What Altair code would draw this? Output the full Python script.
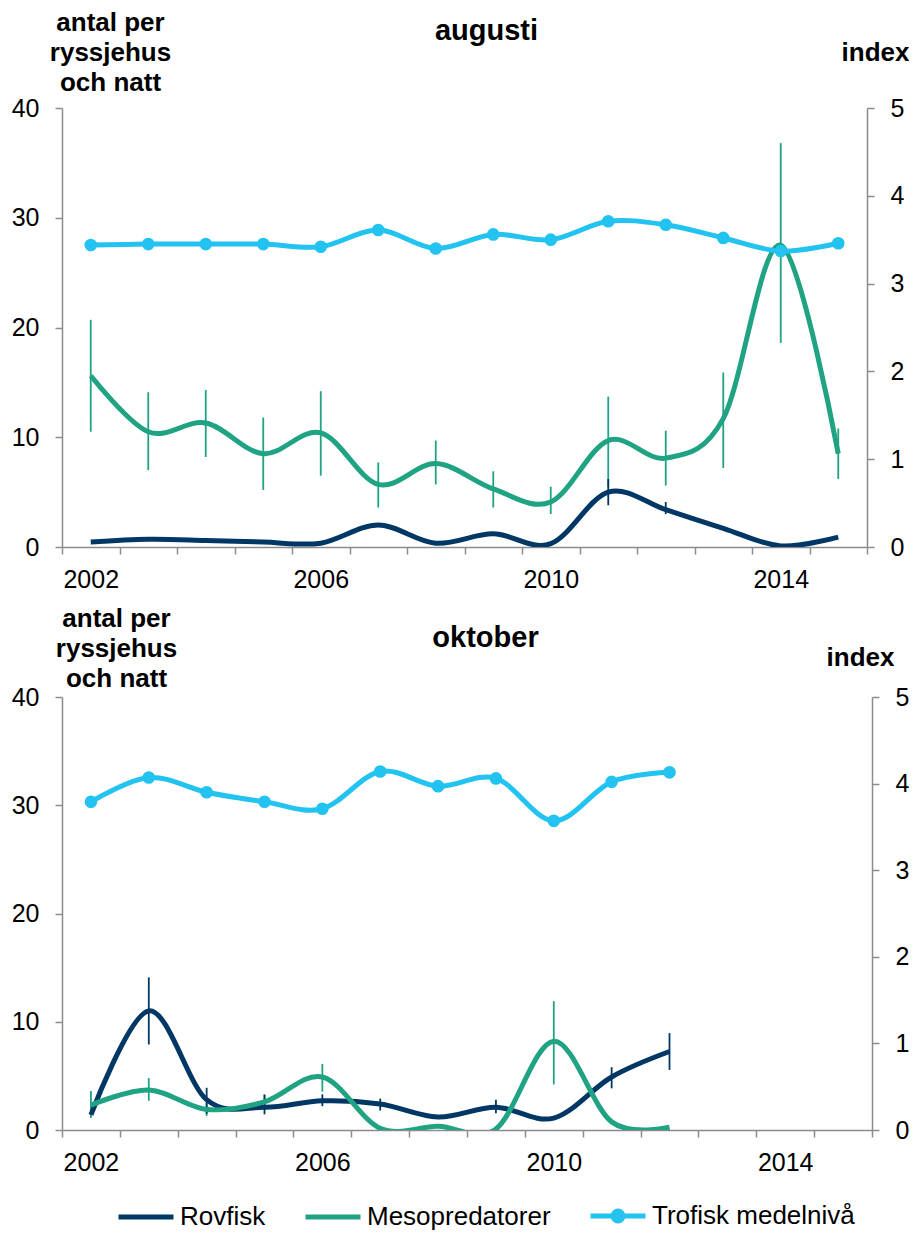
import altair as alt
import pandas as pd

FONT = "Liberation Sans"
series_names = ["Rovfisk", "Mesopredatorer", "Trofisk medelnivå"]
series_colors = ["#003764", "#1fa383", "#22c3f1"]

# ---------------- augusti ----------------
aug_years = list(range(2002, 2016))
aug_rovfisk = [0.45, 0.7, 0.6, 0.45, 0.35, 2.0, 0.35, 1.2, 0.3, 5.0, 3.4, 1.7, 0.1, 0.9]
aug_meso = [15.6, 10.5, 11.3, 8.5, 10.4, 5.7, 7.6, 5.3, 4.1, 9.7, 8.1, 11.7, 27.5, 8.5]
aug_trofisk = [3.44, 3.45, 3.45, 3.45, 3.42, 3.61, 3.40, 3.56, 3.50, 3.71, 3.67, 3.52, 3.37, 3.46]
aug_meso_lo = [10.5, 7.0, 8.2, 5.2, 6.5, 3.6, 5.7, 3.6, 3.0, 5.5, 5.6, 7.2, 18.6, 6.2]
aug_meso_hi = [20.7, 14.1, 14.3, 11.8, 14.2, 7.7, 9.7, 6.9, 5.5, 13.7, 10.6, 15.9, 36.8, 10.8]
aug_rov_err_years = [2011, 2012]
aug_rov_lo = [3.8, 3.0]
aug_rov_hi = [6.2, 4.1]

# ---------------- oktober ----------------
okt_years = list(range(2002, 2013))
okt_rovfisk = [1.4, 11.0, 2.8, 2.1, 2.7, 2.4, 1.2, 2.1, 1.1, 4.9, 7.25]
okt_meso = [2.3, 3.7, 1.9, 2.6, 4.9, 0.15, 0.35, 0.1, 8.2, 0.75, 0.25]
okt_trofisk = [3.79, 4.07, 3.90, 3.79, 3.71, 4.14, 3.97, 4.06, 3.57, 4.02, 4.13]
okt_rov_err_years = [2003, 2004, 2005, 2006, 2007, 2009, 2011, 2012]
okt_rov_lo = [7.9, 1.5, 1.45, 2.2, 1.8, 1.55, 3.85, 5.55]
okt_rov_hi = [14.1, 3.9, 3.25, 3.3, 2.9, 2.8, 5.8, 8.95]
okt_meso_err_years = [2002, 2003, 2004, 2005, 2006, 2010]
okt_meso_lo = [1.1, 2.7, 1.3, 2.0, 3.55, 4.2]
okt_meso_hi = [3.6, 4.8, 2.5, 3.3, 6.1, 11.9]

left_ticks = [0, 10, 20, 30, 40]
right_ticks = [0, 1, 2, 3, 4, 5]
x_bounds = [2001.5 + i for i in range(15)]

AXIS_GRAY = "#8c8c8c"

legend_line = "M-1,0L1,0"
legend_line_dot = ("M-1,0L1,0 "
                   "M-0.09,0a0.09,0.09 0 1,0 0.18,0a0.09,0.09 0 1,0 -0.18,0 "
                   "M-0.18,0a0.18,0.18 0 1,0 0.36,0a0.18,0.18 0 1,0 -0.36,0")

LEG_X = 54
LEG_Y = 1078
legend = alt.Legend(
    orient="none", legendX=LEG_X, legendY=LEG_Y, direction="horizontal", columns=3,
    title=None, symbolSize=3025, symbolStrokeWidth=5, symbolOpacity=1,
    labelFont=FONT, labelFontSize=26, labelColor="black", labelOffset=4, labelLimit=0,
    columnPadding=29, padding=0,
)
color_enc = alt.Color("series:N", scale=alt.Scale(domain=series_names, range=series_colors), legend=legend)
shape_enc = alt.Shape("series:N", scale=alt.Scale(domain=series_names,
                                                  range=[legend_line, legend_line, legend_line_dot]), legend=legend)


def panel(years, rov, meso, trof, err_rows, width, height, month, month_x, month_y,
          left_x, left_y, right_x, right_y):
    lines_df = pd.DataFrame({
        "year": years + years,
        "series": ["Rovfisk"] * len(years) + ["Mesopredatorer"] * len(years),
        "value": rov + meso,
    })
    trof_df = pd.DataFrame({"year": years, "series": "Trofisk medelnivå", "index": trof})
    err_df = pd.DataFrame(err_rows, columns=["year", "series", "lo", "hi"])

    xs = alt.Scale(domain=[2001.5, 2015.5], nice=False, zero=False)
    x_axis = alt.Axis(
        values=x_bounds, grid=False, tickSize=7, tickColor=AXIS_GRAY, tickWidth=1.5,
        domainColor=AXIS_GRAY, domainWidth=1.5, labelPadding=13,
        labelFont=FONT, labelFontSize=25, labelColor="black",
        labelExpr="(datum.value - 2001.5) % 4 == 0 ? format(datum.value + 0.5, 'd') : ''",
        labelOffset=width / 28.0, labelFlush=False, labelOverlap=False, labelBound=False,
        title=month, titleX=month_x, titleY=month_y, titleAlign="center", titleFont=FONT,
        titleBaseline="alphabetic", titleFontSize=29, titleFontWeight="bold", titleAngle=0,
        titleColor="black",
    )
    X = alt.X("year:Q", scale=xs, axis=x_axis)
    ys_left = alt.Scale(domain=[0, 40], nice=False, zero=True)
    ys_right = alt.Scale(domain=[0, 5], nice=False, zero=True)
    left_axis = alt.Axis(
        orient="left", values=left_ticks, grid=False, tickSize=7, tickColor=AXIS_GRAY,
        tickWidth=1.5, domainColor=AXIS_GRAY, domainWidth=1.5, labelPadding=16,
        labelFont=FONT, labelFontSize=25, labelColor="black",
        title=["antal per", "ryssjehus", "och natt"], titleAngle=0, titleAlign="center",
        titleBaseline="alphabetic", titleX=left_x, titleY=left_y, titleFontSize=26,
        titleFontWeight="bold", titleLineHeight=30, titleFont=FONT, titleColor="black",
    )
    right_axis = alt.Axis(
        orient="right", values=right_ticks, grid=False, tickSize=7, tickColor=AXIS_GRAY,
        tickWidth=1.5, domainColor=AXIS_GRAY, domainWidth=1.5, labelPadding=16,
        labelFont=FONT, labelFontSize=25, labelColor="black",
        title="index", titleAngle=0, titleAlign="center", titleBaseline="alphabetic",
        titleX=right_x, titleY=right_y, titleFontSize=26, titleFontWeight="bold",
        titleFont=FONT, titleColor="black",
    )

    err = alt.Chart(err_df).mark_rule(strokeWidth=1.8).encode(
        x=X, y=alt.Y("lo:Q", scale=ys_left, axis=None), y2="hi:Q", color=color_enc)
    lines = alt.Chart(lines_df).mark_line(interpolate="cardinal", strokeWidth=5, clip=True).encode(
        x=X, y=alt.Y("value:Q", scale=ys_left, axis=left_axis), color=color_enc)
    trof_line = alt.Chart(trof_df).mark_line(interpolate="cardinal", strokeWidth=5, clip=True).encode(
        x=X, y=alt.Y("index:Q", scale=ys_right, axis=right_axis), color=color_enc)
    trof_pts = alt.Chart(trof_df).mark_circle(size=160, opacity=1, color=series_colors[2]).encode(
        x=X, y=alt.Y("index:Q", scale=ys_right, axis=None))
    legend_driver = alt.Chart(trof_df).mark_point(opacity=0, filled=False, strokeWidth=5).encode(
        x=X, y=alt.Y("index:Q", scale=ys_right, axis=None), color=color_enc, shape=shape_enc)

    return alt.layer(err, lines, trof_line, trof_pts, legend_driver).resolve_scale(
        y="independent").properties(width=width, height=height)


aug_err = ([(y, "Mesopredatorer", lo, hi) for y, lo, hi in zip(aug_years, aug_meso_lo, aug_meso_hi)]
           + [(y, "Rovfisk", lo, hi) for y, lo, hi in zip(aug_rov_err_years, aug_rov_lo, aug_rov_hi)])
okt_err = ([(y, "Mesopredatorer", lo, hi) for y, lo, hi in zip(okt_meso_err_years, okt_meso_lo, okt_meso_hi)]
           + [(y, "Rovfisk", lo, hi) for y, lo, hi in zip(okt_rov_err_years, okt_rov_lo, okt_rov_hi)])

top = panel(aug_years, aug_rovfisk, aug_meso, aug_trofisk, aug_err, 805, 439,
            "augusti", 424, -508, 48, -78, 8, -48)
bottom = panel(okt_years, okt_rovfisk, okt_meso, okt_trofisk, okt_err, 810, 433,
               "oktober", 423, -484, 54, -71, -12, -32)

chart = alt.vconcat(top, bottom, spacing=13).properties(
    padding={"left": 3, "top": 1, "right": 0, "bottom": 5},
    background="white",
).configure_view(stroke=None).configure_legend(
    orient="none", legendX=LEG_X, legendY=LEG_Y
)

chart.save("out.html", embed_options={"renderer": "svg", "actions": False})
